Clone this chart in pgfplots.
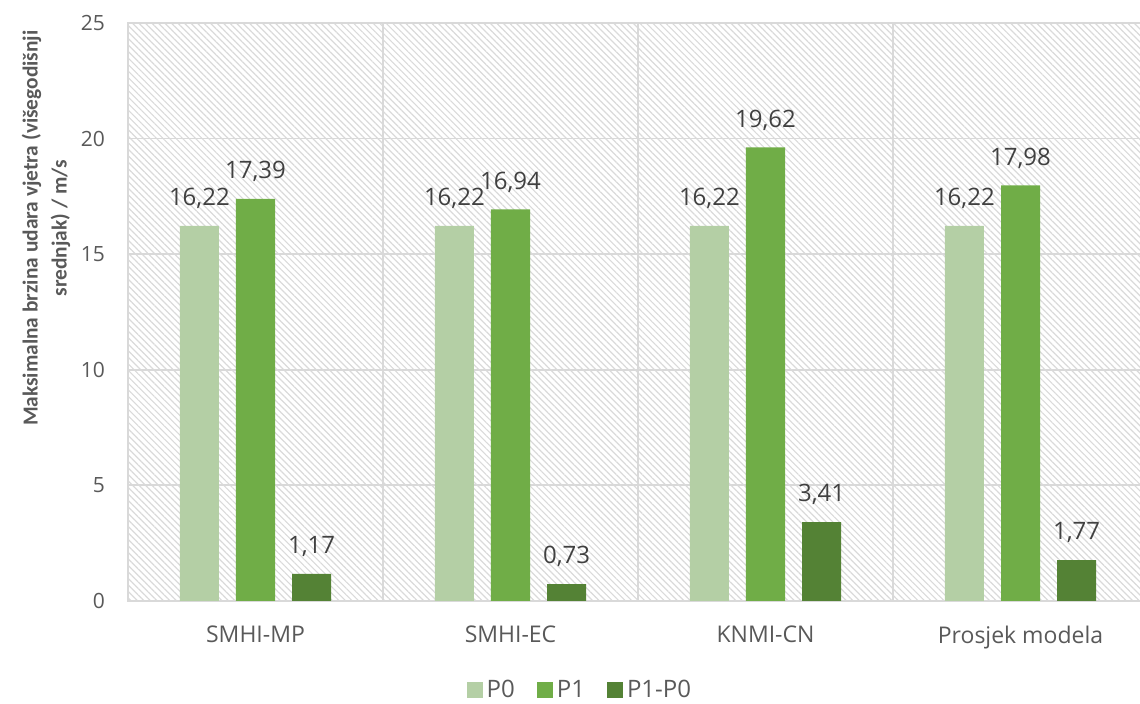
\documentclass[border=0pt]{standalone}
\usepackage{pgfplots}
\pgfplotsset{compat=1.18}
\usepackage{fontspec}
\setmainfont{Open Sans}
\newfontfamily\carlito{Carlito}
\usetikzlibrary{patterns.meta}

\definecolor{cP0}{RGB}{180,207,165}
\definecolor{cP1}{RGB}{112,173,71}
\definecolor{cDiff}{RGB}{84,130,53}
\definecolor{txt}{RGB}{89,89,89}
\definecolor{vtxt}{RGB}{64,64,64}
\definecolor{gridc}{RGB}{217,217,217}
\definecolor{hatch}{RGB}{218,218,218}

\begin{document}
\begin{tikzpicture}
\begin{axis}[
  scale only axis,
  width=510pt, height=289pt,
  xmin=-0.5, xmax=3.5,
  ymin=0, ymax=25,
  ytick={0,5,10,15,20,25},
  xtick={0,1,2,3},
  xticklabels={SMHI-MP,SMHI-EC,KNMI-CN,Prosjek modela},
  minor xtick={-0.5,0.5,1.5,2.5,3.5},
  xminorgrids, ymajorgrids,
  major tick length=0pt, minor tick length=0pt,
  grid style={gridc, line width=0.9pt},
  minor grid style={gridc, line width=0.9pt},
  axis line style={gridc, line width=0.9pt},
  axis background/.style={pattern={Lines[angle=-45,distance=2.3pt,line width=0.6pt]}, pattern color=hatch},
  ybar=0pt,
  bar width=0.153,
  ticklabel style={text=txt},
  yticklabel style={font=\fontsize{10.5}{12}\selectfont, xshift=-8pt,
    /pgf/number format/assume math mode=true},
  xticklabel style={font=\fontsize{11.5}{13}\selectfont, yshift=-9pt},
  ylabel={Maksimalna brzina udara vjetra (višegodišnji\\srednjak) / m/s},
  ylabel style={font=\carlito\bfseries\fontsize{10.7}{14.5}\selectfont, text=txt, align=center,
    at={(axis description cs:-0.0804,0.645)}, anchor=center},
  nodes near coords,
  nodes near coords style={font=\fontsize{12}{14}\selectfont, text=vtxt, yshift=5pt,
    /pgf/number format/.cd, use comma, fixed, fixed zerofill, precision=2,
    assume math mode=true},
  legend columns=3,
  legend style={draw=none, fill=none, at={(0.444,-0.154)}, anchor=center,
    font=\fontsize{12}{14}\selectfont, text=txt,
    /tikz/every even column/.append style={column sep=9pt}},
  legend image code/.code={\fill[#1] (0pt,-4pt) rectangle (8pt,4pt);},
]
\addplot[fill=cP0, draw=none, bar shift=-0.22] coordinates {(0,16.22) (1,16.22) (2,16.22) (3,16.22)};
\addplot[fill=cP1, draw=none, bar shift=0] coordinates {(0,17.39) (1,16.94) (2,19.62) (3,17.98)};
\addplot[fill=cDiff, draw=none, bar shift=0.22] coordinates {(0,1.17) (1,0.73) (2,3.41) (3,1.77)};
\legend{P0,P1,P1-P0}
\end{axis}
\pgfresetboundingbox
\path (current axis.south west) ++(-64pt,-51.5pt) rectangle ++(570pt,352pt);
\end{tikzpicture}
\end{document}
